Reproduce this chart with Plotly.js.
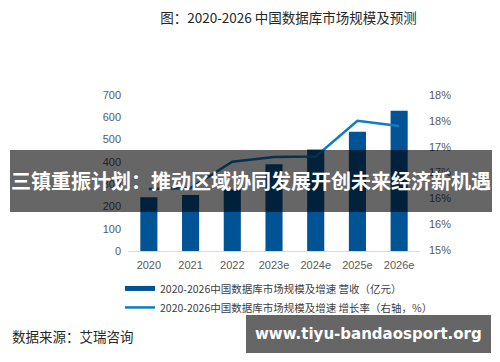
<!DOCTYPE html>
<html>
<head>
<meta charset="utf-8">
<script src="https://cdn.plot.ly/plotly-3.0.1.min.js"></script>
<style>html,body{margin:0;padding:0;background:#fff;}#chart{width:500px;height:362px;}</style>
</head>
<body>
<div id="chart"></div>
<script>
// ---- data ----
var years = ["2020", "2021", "2022", "2023e", "2024e", "2025e", "2026e"];
var revenue = [241, 251, 276, 389, 455, 535, 629];            // 营收（亿元）
var growth = [0.1618, 0.1620, 0.1671, 0.1680, 0.1681, 0.1750, 0.1740]; // 增长率
var revenueName = "2020-2026中国数据库市场规模及增速 营收（亿元）";
var growthName = "2020-2026中国数据库市场规模及增速 增长率（右轴，%）";
var rightTickVals = [0.15, 0.155, 0.16, 0.165, 0.17, 0.175, 0.18];
var rightTickText = ["15%", "16%", "16%", "17%", "17%", "18%", "18%"];
var titleText = "图：2020-2026 中国数据库市场规模及预测";
var sourceText = "数据来源：艾瑞咨询";
var bannerText = "三镇重振计划：推动区域协同发展开创未来经济新机遇";
var watermarkText = "www.tiyu-bandaosport.org";

var barColor = "#005394";
var lineColor = "#0f7bc0";
var FONT = "Liberation Sans, Arial, Noto Sans CJK SC, sans-serif";
var CJK = "Noto Sans CJK SC, Liberation Sans, sans-serif";

var traces = [
  { // legend swatch for the bars (no marks)
    type: "scatter", mode: "lines", x: [null], y: [null],
    name: revenueName, line: {color: barColor, width: 5},
    hoverinfo: "skip", showlegend: true
  },
  {
    type: "bar", x: years, y: revenue, name: revenueName,
    marker: {color: barColor}, showlegend: false, yaxis: "y"
  },
  {
    type: "scatter", mode: "lines", x: years, y: growth, name: growthName,
    line: {color: lineColor, width: 2.5}, yaxis: "y2"
  }
];

var layout = {
  width: 500, height: 362,
  margin: {l: 128, r: 80, t: 95, b: 111, pad: 0},
  paper_bgcolor: "#ffffff", plot_bgcolor: "#ffffff",
  font: {family: FONT, color: "#595959", size: 11},
  bargap: 0.59,
  title: {
    text: titleText, xref: "container", yref: "container",
    x: 0.577, y: 0.950, xanchor: "center", yanchor: "middle",
    font: {family: CJK, size: 13.5, color: "#262626"}
  },
  xaxis: {
    type: "category", showline: true, linecolor: "#d9d9d9", linewidth: 1,
    ticks: "", showgrid: false, zeroline: false, ticklabelstandoff: 4,
    tickfont: {family: FONT, size: 11, color: "#595959"}
  },
  yaxis: {
    range: [0, 700], dtick: 100, showgrid: false, zeroline: false,
    showline: false, ticks: "", ticklabelstandoff: 6,
    tickfont: {family: FONT, size: 11, color: "#595959"}
  },
  yaxis2: {
    overlaying: "y", side: "right", range: [0.1498, 0.18],
    tickvals: rightTickVals, ticktext: rightTickText,
    showgrid: false, zeroline: false, showline: false, ticks: "", ticklabelstandoff: 8,
    tickfont: {family: FONT, size: 11, color: "#595959"}
  },
  showlegend: true,
  legend: {
    x: -0.0274, y: -0.147, xanchor: "left", yanchor: "top",
    orientation: "v", bgcolor: "rgba(0,0,0,0)", borderwidth: 0,
    font: {family: CJK, size: 10.5, color: "#404040"},
    traceorder: "normal"
  },
  shapes: [
    {type: "rect", xref: "paper", yref: "paper", x0: -0.4041, x1: 1.2466, y0: 0.25, y1: 0.6474,
     fillcolor: "rgba(0,0,0,0.6)", line: {width: 0}, layer: "above"},
    {type: "rect", xref: "paper", yref: "paper", x0: 0.4041, x1: 1.2432, y0: -0.6538, y1: -0.4103,
     fillcolor: "#666666", line: {width: 0}, layer: "above"}
  ],
  annotations: [
    {text: bannerText, xref: "paper", yref: "paper", x: 0.4212, y: 0.4550,
     xanchor: "center", yanchor: "middle", showarrow: false,
     font: {family: CJK, size: 20, color: "#ffffff", weight: "bold"}},
    {text: watermarkText, xref: "paper", yref: "paper", x: 0.8236, y: -0.532,
     xanchor: "center", yanchor: "middle", showarrow: false,
     font: {family: "DejaVu Sans, sans-serif", size: 15, color: "#ffffff", weight: "bold"}},
    {text: sourceText, xref: "paper", yref: "paper", x: -0.4041, y: -0.545,
     xanchor: "left", yanchor: "middle", showarrow: false,
     font: {family: CJK, size: 13.5, color: "#262626"}}
  ]
};

Plotly.newPlot("chart", traces, layout, {displayModeBar: false, staticPlot: true});
</script>
</body>
</html>
